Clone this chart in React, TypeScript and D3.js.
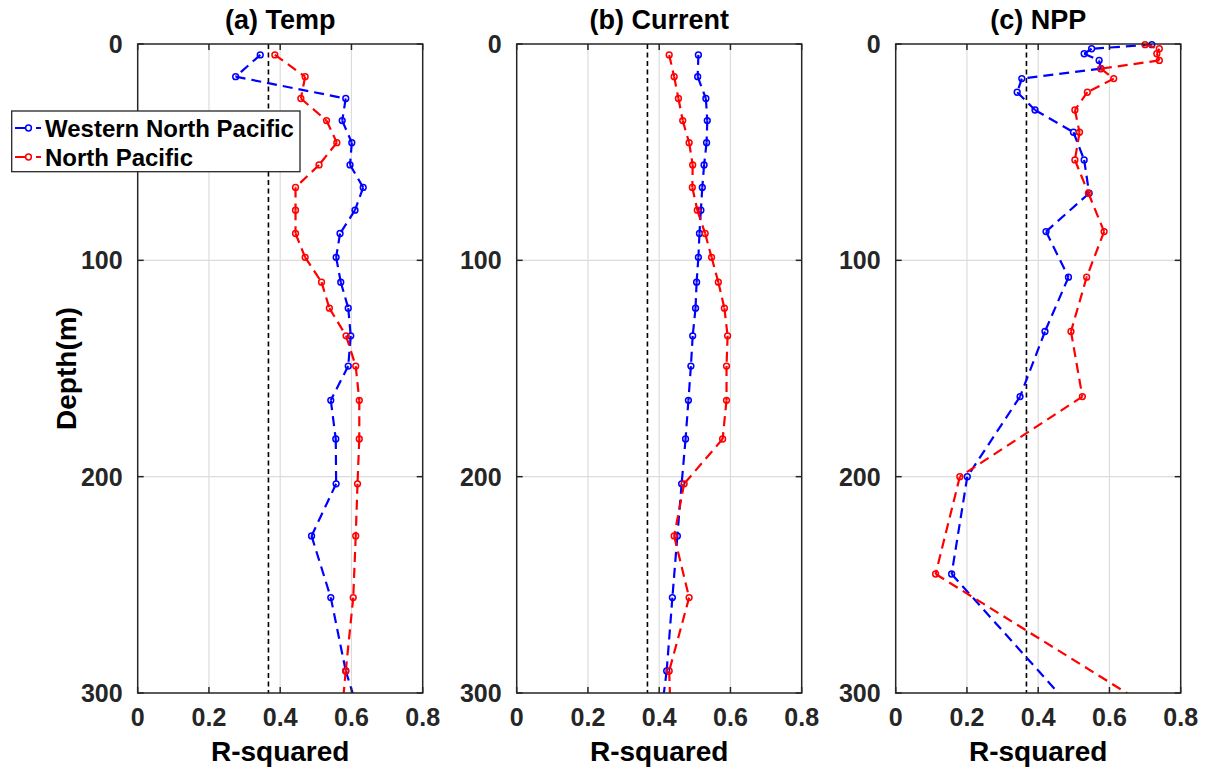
import React from "react";
import * as d3 from "d3";

// ---------- data ----------
const sodaDepths = [5.03, 15.1, 25.2, 35.4, 45.6, 55.9, 66.3, 76.8, 87.6, 98.6, 110.1, 122.1, 134.9, 148.9, 164.7, 182.6, 203.3, 227.4, 255.9, 289.8, 330.0];
const nppDepths = [0.3, 2.2, 4.5, 7.6, 11.4, 16.0, 22.3, 30.5, 40.8, 53.6, 69.0, 86.7, 107.8, 132.9, 163.0, 200.0, 245.0, 310.0];

const tempWNP = [0.344, 0.275, 0.584, 0.574, 0.601, 0.596, 0.633, 0.610, 0.568, 0.557, 0.570, 0.591, 0.598, 0.591, 0.542, 0.556, 0.557, 0.488, 0.542, 0.584, 0.66];
const tempNP = [0.385, 0.470, 0.458, 0.530, 0.559, 0.509, 0.443, 0.443, 0.443, 0.470, 0.516, 0.538, 0.585, 0.612, 0.622, 0.622, 0.617, 0.612, 0.605, 0.584, 0.561];

const currentWNP = [0.510, 0.508, 0.531, 0.535, 0.533, 0.526, 0.521, 0.517, 0.513, 0.510, 0.505, 0.502, 0.494, 0.489, 0.482, 0.474, 0.463, 0.451, 0.437, 0.421, 0.39];
const currentNP = [0.428, 0.442, 0.454, 0.466, 0.484, 0.494, 0.493, 0.507, 0.529, 0.547, 0.566, 0.583, 0.592, 0.589, 0.589, 0.578, 0.470, 0.442, 0.484, 0.428, 0.436];

const nppWNP = [0.719, 0.550, 0.529, 0.571, 0.576, 0.354, 0.341, 0.391, 0.499, 0.529, 0.543, 0.422, 0.485, 0.419, 0.349, 0.201, 0.157, 0.511];
const nppNP = [0.700, 0.740, 0.733, 0.740, 0.576, 0.612, 0.538, 0.503, 0.516, 0.503, 0.541, 0.585, 0.536, 0.492, 0.524, 0.180, 0.112, 0.746];

const threshold = 0.367;
const xTicks = [0, 0.2, 0.4, 0.6, 0.8];
const yTicks = [0, 100, 200, 300];
const titles = ["(a) Temp", "(b) Current", "(c) NPP"];
const seriesNames = ["Western North Pacific", "North Pacific"];

// ---------- layout ----------
const W = 1210, H = 771;
const TOP = 44, BOTTOM = 693, PW = 285;
const LEFTS = [137.7, 516.7, 895.7];
const FONT = "'Liberation Sans', Arial, Helvetica, sans-serif";
const AX = "#262626";
const BLUE = "#0000ff", RED = "#ff0000";

const panelData = [
  { depths: sodaDepths, wnp: tempWNP, np: tempNP },
  { depths: sodaDepths, wnp: currentWNP, np: currentNP },
  { depths: nppDepths, wnp: nppWNP, np: nppNP },
];

function Series({ depths, vals, color, x, y, clipId }: any) {
  const pts: [number, number][] = vals.map((v: number, i: number) => [x(v), y(depths[i])]);
  const segs = d3.pairs(pts);
  return (
    <g>
      <g clipPath={`url(#${clipId})`}>
        {segs.map(([a, b], i) => (
          <line key={i} x1={a[0]} y1={a[1]} x2={b[0]} y2={b[1]} stroke={color} strokeWidth={2.2} strokeDasharray="10,6" />
        ))}
      </g>
      {pts.map((p, i) =>
        depths[i] <= 300 ? (
          <circle key={i} cx={p[0]} cy={p[1]} r={2.9} fill="none" stroke={color} strokeWidth={1.5} />
        ) : null
      )}
    </g>
  );
}

function Panel({ idx }: { idx: number }) {
  const left = LEFTS[idx];
  const x = d3.scaleLinear().domain([0, 0.8]).range([left, left + PW]);
  const y = d3.scaleLinear().domain([0, 300]).range([TOP, BOTTOM]);
  const pd = panelData[idx];
  const clipId = `clip${idx}`;
  const tl = 6;
  return (
    <g>
      <defs>
        <clipPath id={clipId}>
          <rect x={left} y={TOP} width={PW} height={BOTTOM - TOP} />
        </clipPath>
      </defs>
      <rect x={left} y={TOP} width={PW} height={BOTTOM - TOP} fill="#fff" />
      {xTicks.slice(1, -1).map((t) => (
        <line key={"gx" + t} x1={x(t)} x2={x(t)} y1={TOP} y2={BOTTOM} stroke="#dcdcdc" strokeWidth={1.2} />
      ))}
      {yTicks.slice(1, -1).map((t) => (
        <line key={"gy" + t} x1={left} x2={left + PW} y1={y(t)} y2={y(t)} stroke="#dcdcdc" strokeWidth={1.2} />
      ))}
      <line x1={x(threshold)} x2={x(threshold)} y1={TOP} y2={BOTTOM} stroke="#000" strokeWidth={1.6} strokeDasharray="5,3.5" />
      <Series depths={pd.depths} vals={pd.wnp} color={BLUE} x={x} y={y} clipId={clipId} />
      <Series depths={pd.depths} vals={pd.np} color={RED} x={x} y={y} clipId={clipId} />
      <rect x={left} y={TOP} width={PW} height={BOTTOM - TOP} fill="none" stroke={AX} strokeWidth={1.5} />
      {xTicks.map((t) => (
        <g key={"tx" + t}>
          <line x1={x(t)} x2={x(t)} y1={BOTTOM} y2={BOTTOM - tl} stroke={AX} strokeWidth={1.5} />
          <line x1={x(t)} x2={x(t)} y1={TOP} y2={TOP + tl} stroke={AX} strokeWidth={1.5} />
          <text x={x(t)} y={726} textAnchor="middle" fontFamily={FONT} fontWeight="bold" fontSize={25} fill={AX}>
            {d3.format("")(t)}
          </text>
        </g>
      ))}
      {yTicks.map((t) => (
        <g key={"ty" + t}>
          <line x1={left} x2={left + tl} y1={y(t)} y2={y(t)} stroke={AX} strokeWidth={1.5} />
          <line x1={left + PW} x2={left + PW - tl} y1={y(t)} y2={y(t)} stroke={AX} strokeWidth={1.5} />
          <text x={left - 15} y={y(t) + 9} textAnchor="end" fontFamily={FONT} fontWeight="bold" fontSize={25} fill={AX}>
            {t}
          </text>
        </g>
      ))}
      <text x={left + PW / 2} y={29} textAnchor="middle" fontFamily={FONT} fontWeight="bold" fontSize={27} fill="#000">
        {titles[idx]}
      </text>
      <text x={left + PW / 2} y={761} textAnchor="middle" fontFamily={FONT} fontWeight="bold" fontSize={28} fill="#000">
        R-squared
      </text>
    </g>
  );
}

function Legend() {
  const lx = 11.7, ly = 111, lw = 288.3, lh = 60.7;
  const rows = [
    { name: seriesNames[0], color: BLUE, cy: 128 },
    { name: seriesNames[1], color: RED, cy: 157 },
  ];
  return (
    <g>
      <rect x={lx} y={ly} width={lw} height={lh} fill="#fff" stroke={AX} strokeWidth={1.3} />
      {rows.map((r) => (
        <g key={r.name}>
          <line x1={15} x2={41} y1={r.cy} y2={r.cy} stroke={r.color} strokeWidth={2.2} strokeDasharray="11,10" />
          <circle cx={28.5} cy={r.cy} r={2.9} fill="none" stroke={r.color} strokeWidth={1.5} />
          <text x={45} y={r.cy + 8.5} fontFamily={FONT} fontWeight="bold" fontSize={24} fill="#000">
            {r.name}
          </text>
        </g>
      ))}
    </g>
  );
}

export default function App() {
  return (
    <svg width={W} height={H} viewBox={`0 0 ${W} ${H}`} style={{ position: "absolute", left: 0, top: 0, background: "#fff" }}>
      <rect x={0} y={0} width={W} height={H} fill="#fff" />
      {[0, 1, 2].map((i) => (
        <Panel key={i} idx={i} />
      ))}
      <text
        transform={`translate(66, ${(TOP + BOTTOM) / 2}) rotate(-90)`}
        textAnchor="middle"
        dominantBaseline="central"
        fontFamily={FONT}
        fontWeight="bold"
        fontSize={28}
        fill="#000"
      >
        Depth(m)
      </text>
      <Legend />
    </svg>
  );
}
